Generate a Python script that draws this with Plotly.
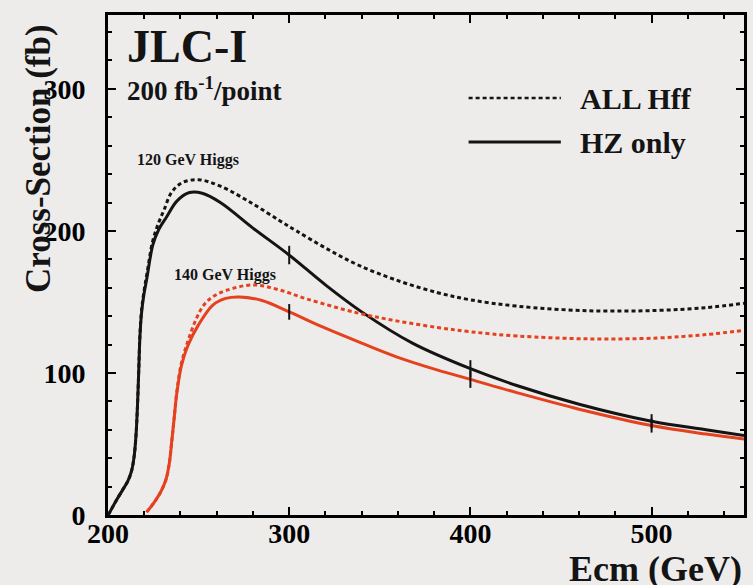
import plotly.graph_objects as go

# Centre-of-mass energy grids (GeV) and cross-sections (fb)
ecm_120_hz = [200, 201, 204, 208, 211, 213, 214.5, 215.5, 216.3, 217, 217.6, 218.5,
              219.8, 221.5, 224.7, 228, 232.4, 238, 245, 252, 262, 280, 300, 320, 340,
              368, 400, 426, 460, 500, 530, 551]
xsec_120_hz = [0, 2, 9, 17.5, 24, 31, 42, 57, 78, 103, 125, 142,
               155, 167, 190, 201, 210, 221, 227, 226.5, 220, 202, 183, 162, 143,
               121, 103, 91, 78, 66, 60, 56]

ecm_120_all = [200, 201, 204, 208, 211, 213, 214.5, 215.5, 216.3, 217, 217.6, 218.5,
               219.8, 221.5, 224.7, 228, 231, 235, 241, 250, 262, 280, 295, 304, 320,
               338, 360, 382, 400, 426, 465, 503, 530, 551]
xsec_120_all = [0, 2, 9, 17.5, 24, 31, 42, 57, 78, 103, 126, 144,
                157, 170, 193, 206, 215, 227, 234, 236, 231.5, 219, 207, 200, 188,
                176, 165, 156.5, 151.5, 147, 143.8, 144, 146, 149]

ecm_140_hz = [221.3, 225, 229, 232, 233.8, 235.2, 236.5, 238, 240.5, 244, 250, 258, 265,
              272.5, 285, 300, 320, 340, 360, 382, 400, 426, 460, 500, 530, 551]
xsec_140_hz = [2, 8, 16, 25, 36, 52, 68, 86, 105, 119, 134, 148, 152.5,
               153.5, 151, 143, 131.5, 121, 111, 102, 95.5, 86, 74.5, 63, 57, 53.5]

ecm_140_all = [221.3, 225, 229, 232, 233.8, 235.2, 236.5, 238, 240.5, 244, 249, 253, 257.7,
               265, 280, 294.5, 310, 338.5, 360, 382, 400, 426, 465, 503, 530, 551]
xsec_140_all = [2, 8, 16, 25, 36, 52, 68, 87, 107, 122, 139, 148, 153.5,
                158, 162, 158.5, 152, 142, 136.5, 132, 129, 126, 124, 124.6, 127, 130]

# Simulated measurement points (200 fb^-1 per point) on the HZ curves
meas_ecm = [300, 400, 500]
meas_120 = [183, 103, 66]
meas_120_err = [6.5, 6, 5]
meas_140 = [143, 95.5, 63]
meas_140_err = [5.5, 6, 5]

x_ticks = [200, 300, 400, 500]
y_ticks = [0, 100, 200, 300]

BLACK = "#141414"
RED = "#e5411e"
BG = "#edeceb"
SERIF = "Liberation Serif, Times New Roman, serif"

fig = go.Figure()

curve_specs = [
    (ecm_120_all, xsec_120_all, BLACK, "4px,3px"),
    (ecm_120_hz, xsec_120_hz, BLACK, "solid"),
    (ecm_140_all, xsec_140_all, RED, "4px,3px"),
    (ecm_140_hz, xsec_140_hz, RED, "solid"),
]
for xs, ys, col, dash in curve_specs:
    fig.add_trace(go.Scatter(
        x=xs, y=ys, mode="lines",
        line=dict(color=col, width=3, dash=dash, shape="spline", smoothing=1.0),
        showlegend=False, hoverinfo="skip",
    ))

for ys, errs in [(meas_120, meas_120_err), (meas_140, meas_140_err)]:
    fig.add_trace(go.Scatter(
        x=meas_ecm, y=ys, mode="markers",
        marker=dict(size=1, color=BLACK),
        error_y=dict(type="data", array=errs, visible=True,
                     color=BLACK, thickness=2, width=0),
        showlegend=False, hoverinfo="skip",
    ))

axis_common = dict(
    showline=True, linecolor="black", linewidth=3, mirror="allticks",
    ticks="inside", ticklen=8, tickwidth=2, tickcolor="black",
    showgrid=False, zeroline=False,
    tickfont=dict(family=SERIF, size=28, color="black", weight="bold"),
)

fig.update_xaxes(
    range=[200, 551], tickvals=x_ticks, ticktext=[str(v) for v in x_ticks],
    minor=dict(dtick=20, tick0=200, ticks="inside", ticklen=4, tickwidth=1.5, tickcolor="black"),
    ticklabelstandoff=-9,
    **axis_common,
)
fig.update_yaxes(
    range=[0, 352], tickvals=y_ticks, ticktext=[str(v) for v in y_ticks],
    minor=dict(dtick=20, tick0=0, ticks="inside", ticklen=4, tickwidth=1.5, tickcolor="black"),
    ticklabelstandoff=14,
    **axis_common,
)

# Legend drawn as line samples with labels
legend_items = [("ALL Hff", "4px,3px", 0.834), ("HZ only", "solid", 0.746)]
for label, dash, yp in legend_items:
    fig.add_shape(type="line", xref="paper", yref="paper",
                  x0=0.567, x1=0.712, y0=yp, y1=yp,
                  line=dict(color=BLACK, width=3 if dash == "solid" else 2.5, dash=dash))
    fig.add_annotation(xref="paper", yref="paper", x=0.739, y=yp, text=label,
                       showarrow=False, xanchor="left", yanchor="middle",
                       font=dict(family=SERIF, size=30, color=BLACK, weight="bold"))

fig.add_annotation(xref="paper", yref="paper", x=0.027, y=0.938, text="JLC-I",
                   showarrow=False, xanchor="left", yanchor="middle",
                   font=dict(family=SERIF, size=46, color=BLACK, weight="bold"))
fig.add_annotation(xref="paper", yref="paper", x=0.027, y=0.852,
                   text="200 fb<sup>-1</sup>/point",
                   showarrow=False, xanchor="left", yanchor="middle",
                   font=dict(family=SERIF, size=27, color=BLACK, weight="bold"))
fig.add_annotation(x=214.8, y=250, text="120 GeV Higgs", showarrow=False,
                   xanchor="left", yanchor="middle",
                   font=dict(family=SERIF, size=16, color=BLACK, weight="bold"))
fig.add_annotation(x=235.2, y=169, text="140 GeV Higgs", showarrow=False,
                   xanchor="left", yanchor="middle",
                   font=dict(family=SERIF, size=16, color=BLACK, weight="bold"))

# Axis titles
fig.add_annotation(xref="paper", yref="paper", x=1.0, y=-0.108, text="Ecm (GeV)",
                   showarrow=False, xanchor="right", yanchor="middle",
                   font=dict(family=SERIF, size=36, color=BLACK, weight="bold"))
fig.add_annotation(xref="paper", yref="paper", x=-0.11, y=0.712, text="Cross-Section (fb)",
                   showarrow=False, xanchor="center", yanchor="middle", textangle=-90,
                   font=dict(family=SERIF, size=35, color=BLACK, weight="bold"))

fig.update_layout(
    width=753, height=585,
    margin=dict(l=108, r=6, t=15, b=70),
    paper_bgcolor=BG, plot_bgcolor=BG,
)

fig.write_html("out.html")
